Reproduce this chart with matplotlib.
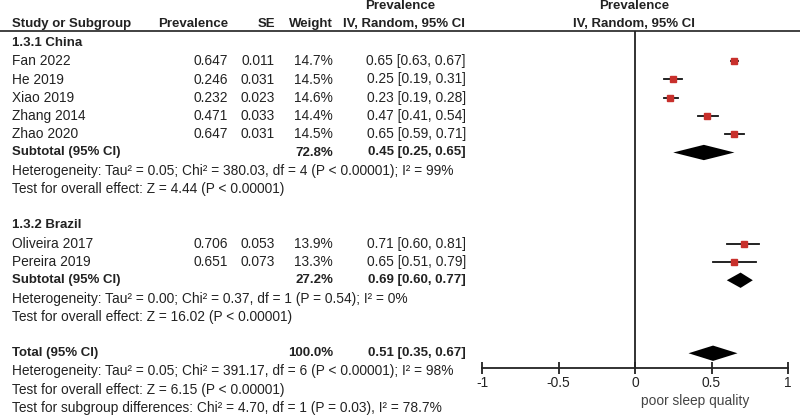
import numpy as np
import matplotlib.pyplot as plt

# study data
studies = ["Fan 2022", "He 2019", "Xiao 2019", "Zhang 2014", "Zhao 2020",
           "Oliveira 2017", "Pereira 2019"]
prev = [0.647, 0.246, 0.232, 0.471, 0.647, 0.706, 0.651]
se = [0.011, 0.031, 0.023, 0.033, 0.031, 0.053, 0.073]
weight = [14.7, 14.5, 14.6, 14.4, 14.5, 13.9, 13.3]
est = [0.65, 0.25, 0.23, 0.47, 0.65, 0.71, 0.65]
lo = [0.63, 0.19, 0.19, 0.41, 0.59, 0.60, 0.51]
hi = [0.67, 0.31, 0.28, 0.54, 0.71, 0.81, 0.79]
study_rows = [1, 2, 3, 4, 5, 11, 12]

# pooled estimates
pooled_names = ["Subtotal (95% CI)", "Subtotal (95% CI)", "Total (95% CI)"]
pooled_weight = [72.8, 27.2, 100.0]
pooled_est = [0.45, 0.69, 0.51]
pooled_lo = [0.25, 0.60, 0.35]
pooled_hi = [0.65, 0.77, 0.67]
pooled_rows = [6, 13, 17]

groups = ["1.3.1 China", "1.3.2 Brazil"]
group_rows = [0, 10]

notes = [
    "Heterogeneity: Tau\u00b2 = 0.05; Chi\u00b2 = 380.03, df = 4 (P < 0.00001); I\u00b2 = 99%",
    "Test for overall effect: Z = 4.44 (P < 0.00001)",
    "Heterogeneity: Tau\u00b2 = 0.00; Chi\u00b2 = 0.37, df = 1 (P = 0.54); I\u00b2 = 0%",
    "Test for overall effect: Z = 16.02 (P < 0.00001)",
    "Heterogeneity: Tau\u00b2 = 0.05; Chi\u00b2 = 391.17, df = 6 (P < 0.00001); I\u00b2 = 98%",
    "Test for overall effect: Z = 6.15 (P < 0.00001)",
    "Test for subgroup differences: Chi\u00b2 = 4.70, df = 1 (P = 0.03), I\u00b2 = 78.7%",
]
note_rows = [7, 8, 14, 15, 18, 19, 20]

xticks = [-1, -0.5, 0, 0.5, 1]
xtick_labels = ["-1", "-0.5", "0", "0.5", "1"]
axis_label = "poor sleep quality"

plt.rcParams['font.family'] = ['Liberation Sans', 'DejaVu Sans']
W, H = 800, 417
row0, pitch = 43, 18.25
fs = 9.9      # regular text
fb = 9.5      # bold text
tc = '#222222'

def prow(p):
    return (p - row0) / pitch

fig = plt.figure(figsize=(W / 100, H / 100), dpi=100)

# text layer: x in pixels, y in rows
tx = fig.add_axes([0, 0, 1, 1])
tx.set_xlim(0, W)
tx.set_ylim(prow(H), prow(0))
tx.axis('off')

# header
tx.text(12, prow(24), "Study or Subgroup", fontsize=fb, fontweight='bold', color=tc, va='center')
tx.text(228, prow(24), "Prevalence", fontsize=fb, fontweight='bold', color=tc, va='center', ha='right')
tx.text(275, prow(24), "SE", fontsize=fb, fontweight='bold', color=tc, va='center', ha='right')
tx.text(333, prow(24), "Weight", fontsize=fb, fontweight='bold', color=tc, va='center', ha='right')
tx.text(400, prow(6), "Prevalence", fontsize=fb, fontweight='bold', color=tc, va='center', ha='center')
tx.text(404, prow(24), "IV, Random, 95% CI", fontsize=fb, fontweight='bold', color=tc, va='center', ha='center')
tx.text(634, prow(6), "Prevalence", fontsize=fb, fontweight='bold', color=tc, va='center', ha='center')
tx.text(634, prow(24), "IV, Random, 95% CI", fontsize=fb, fontweight='bold', color=tc, va='center', ha='center')
tx.plot([0, W], [prow(31), prow(31)], color='#333333', lw=1.3)

for g, r in zip(groups, group_rows):
    tx.text(12, r, g, fontsize=fb, fontweight='bold', color=tc, va='center')

for i, r in enumerate(study_rows):
    tx.text(12, r, studies[i], fontsize=fs, color=tc, va='center')
    tx.text(228, r, f"{prev[i]:.3f}", fontsize=fs, color=tc, va='center', ha='right')
    tx.text(275, r, f"{se[i]:.3f}", fontsize=fs, color=tc, va='center', ha='right')
    tx.text(333, r, f"{weight[i]:.1f}%", fontsize=fs, color=tc, va='center', ha='right')
    tx.text(466, r, f"{est[i]:.2f} [{lo[i]:.2f}, {hi[i]:.2f}]", fontsize=fs, color=tc,
            va='center', ha='right')

for i, r in enumerate(pooled_rows):
    tx.text(12, r, pooled_names[i], fontsize=fb, fontweight='bold', color=tc, va='center')
    tx.text(333, r, f"{pooled_weight[i]:.1f}%", fontsize=fb, fontweight='bold', color=tc,
            va='center', ha='right')
    tx.text(466, r, f"{pooled_est[i]:.2f} [{pooled_lo[i]:.2f}, {pooled_hi[i]:.2f}]",
            fontsize=fb, fontweight='bold', color=tc, va='center', ha='right')

for n, r in zip(notes, note_rows):
    tx.text(12, r, n, fontsize=fs, color=tc, va='center')

tx.text(695, prow(401), axis_label, fontsize=fs, color='#444444', va='center', ha='center')

# forest panel
ax_top, ax_bot = 31, 368
ax = fig.add_axes([482 / W, 1 - ax_bot / H, 306 / W, (ax_bot - ax_top) / H])
ax.set_xlim(-1, 1)
ax.set_ylim(prow(ax_bot), prow(ax_top))
ax.patch.set_alpha(0)
for s in ['top', 'right', 'left']:
    ax.spines[s].set_visible(False)
ax.spines['bottom'].set_color('#222222')
ax.spines['bottom'].set_linewidth(1.3)
ax.set_yticks([])
ax.set_xticks(xticks)
ax.set_xticklabels(xtick_labels, fontsize=fs, color=tc)
ax.tick_params(axis='x', direction='inout', length=9, width=1.3, color='#222222', pad=1)
ax.axvline(0, color='#222222', lw=1.3)

for i, r in enumerate(study_rows):
    ax.plot([lo[i], hi[i]], [r, r], color='#111111', lw=1.3)
    ax.plot(est[i], r, marker='s', ms=4, color='#c8302c', mec='#c8302c')

for i, r in enumerate(pooled_rows):
    h = 0.42
    ax.fill([pooled_lo[i], pooled_est[i], pooled_hi[i], pooled_est[i]],
            [r, r - h, r, r + h], color='black', lw=0)

fig.savefig('out.png', dpi=100, facecolor='white')
